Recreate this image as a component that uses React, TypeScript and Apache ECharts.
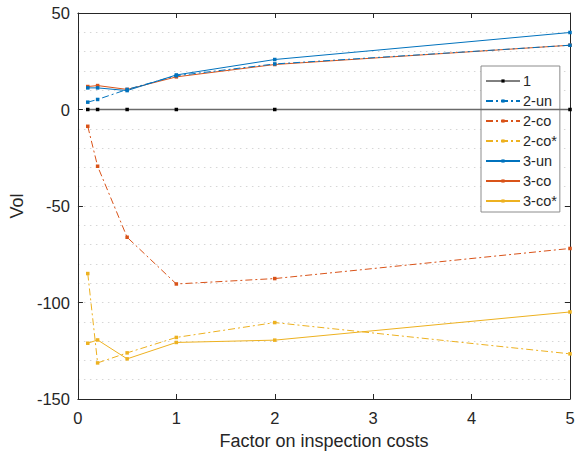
import React, { useEffect, useRef } from "react";
import * as echarts from "echarts";

const xValues = [0.1, 0.2, 0.5, 1, 2, 5];
const seriesNames = ["1", "2-un", "2-co", "2-co*", "3-un", "3-co", "3-co*"];
const s1 = [0, 0, 0, 0, 0, 0];
const s2un = [3.8, 5.2, 10.4, 17.5, 23.6, 33.3];
const s2co = [-8.7, -29.4, -66.2, -90.4, -87.6, -72];
const s2coStar = [-85, -131.3, -126.1, -118.1, -110.4, -126.6];
const s3un = [11.2, 11.2, 9.8, 17.9, 25.9, 39.9];
const s3co = [11.9, 12.4, 10.4, 16.9, 23.3, 33.3];
const s3coStar = [-121.1, -119.4, -129.2, -120.7, -119.5, -104.9];

const seriesValues = [s1, s2un, s2co, s2coStar, s3un, s3co, s3coStar];
const seriesColors = ["#000000", "#0072BD", "#D95319", "#EDB120", "#0072BD", "#D95319", "#EDB120"];
const seriesDashed = [false, true, true, true, false, false, false];

const TXT = "#262626";
const FONT = "'Liberation Sans', Arial, Helvetica, sans-serif";

export default function App() {
  const ref = useRef<HTMLDivElement>(null);
  useEffect(() => {
    if (!ref.current) return;
    const chart = echarts.init(ref.current, undefined, { renderer: "svg" });
    const series = seriesNames.map((name, i) => ({
      name,
      type: "line",
      xAxisIndex: 0,
      yAxisIndex: 0,
      data: xValues.map((x, j) => [x, seriesValues[i][j]]),
      symbol: "rect",
      symbolSize: 3.5,
      showSymbol: true,
      color: seriesColors[i],
      itemStyle: { color: seriesColors[i] },
      lineStyle: {
        color: i === 0 ? "#6a6a6a" : seriesColors[i],
        width: i === 0 ? 1.6 : 1,
        type: seriesDashed[i] ? [7, 3, 2, 3] : "solid",
      },
      z: 10 - i,
    }));
    const legendData = seriesNames.map((name, i) =>
      i === 0 ? { name, lineStyle: { color: "#000000", width: 1 } } : { name }
    );
    const axisCommon = {
      axisLine: { show: true, onZero: false, lineStyle: { color: TXT, width: 1 } },
      axisTick: { show: true, inside: true, length: 5, lineStyle: { color: TXT } },
    };
    const gridLine = { color: "#d6d6d6", type: [1.5, 4.5], width: 1 };
    chart.setOption({
      animation: false,
      textStyle: { fontFamily: FONT },
      grid: { left: 77, right: 12, top: 13, bottom: 55.5, containLabel: false },
      xAxis: [
        {
          type: "value",
          min: 0,
          max: 5,
          interval: 1,
          position: "bottom",
          ...axisCommon,
          splitLine: { show: false },
          axisLabel: { color: TXT, fontSize: 16.5, fontFamily: FONT, margin: 10 },
          name: "Factor on inspection costs",
          nameLocation: "middle",
          nameGap: 33,
          nameTextStyle: { color: TXT, fontSize: 18, fontFamily: FONT },
        },
        {
          type: "value",
          min: 0,
          max: 5,
          interval: 1,
          position: "top",
          ...axisCommon,
          splitLine: { show: false },
          axisLabel: { show: false },
        },
      ],
      yAxis: [
        {
          type: "value",
          min: -150,
          max: 50,
          interval: 50,
          position: "left",
          ...axisCommon,
          axisLabel: { color: TXT, fontSize: 16.5, fontFamily: FONT, margin: 8 },
          splitLine: { show: true, lineStyle: gridLine },
          minorTick: { show: false, splitNumber: 5 },
          minorSplitLine: { show: true, lineStyle: gridLine },
          name: "Vol",
          nameLocation: "middle",
          nameGap: 48,
          nameRotate: 90,
          nameTextStyle: { color: TXT, fontSize: 18, fontFamily: FONT },
        },
        {
          type: "value",
          min: -150,
          max: 50,
          interval: 50,
          position: "right",
          ...axisCommon,
          splitLine: { show: false },
          axisLabel: { show: false },
        },
      ],
      legend: {
        show: true,
        orient: "vertical",
        left: 481,
        top: 66,
        data: legendData,
        itemWidth: 34,
        itemHeight: 4,
        itemGap: 5,
        padding: [7.5, 3, 3.5, 4],
        borderColor: "#8c8c8c",
        borderWidth: 1,
        backgroundColor: "#ffffff",
        textStyle: { color: TXT, fontSize: 14.5, fontFamily: FONT, lineHeight: 14, padding: [0, 0, 0, -2] },
      },
      series,
    });
    return () => chart.dispose();
  }, []);
  return (
    <div
      ref={ref}
      style={{ position: "fixed", left: 0, top: 0, width: 582, height: 455, background: "#fff" }}
    />
  );
}
